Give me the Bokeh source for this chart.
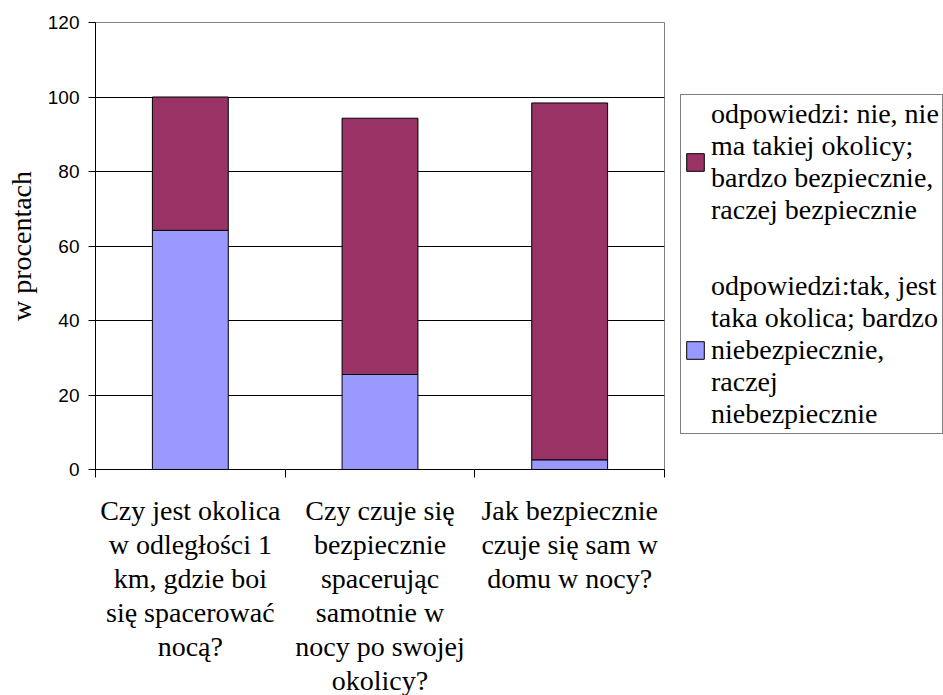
from bokeh.plotting import figure
from bokeh.models import ColumnDataSource, FixedTicker, Legend, LegendItem, Range1d
from bokeh.embed import file_html
from bokeh.resources import INLINE

# ---- data ----
categories = [
    "Czy jest okolica\nw odległości 1\nkm, gdzie boi\nsię spacerować\nnocą?",
    "Czy czuje się\nbezpiecznie\nspacerując\nsamotnie w\nnocy po swojej\nokolicy?",
    "Jak bezpiecznie\nczuje się sam w\ndomu w nocy?",
]
tak = [64.2, 25.5, 2.6]     # odpowiedzi: tak ... niebezpiecznie
nie = [35.8, 68.8, 95.8]    # odpowiedzi: nie ... bezpiecznie
label_tak = "odpowiedzi:tak, jest\ntaka okolica; bardzo\nniebezpiecznie,\nraczej\nniebezpiecznie"
label_nie = "odpowiedzi: nie, nie\nma takiej okolicy;\nbardzo bezpiecznie,\nraczej bezpiecznie"
y_ticks = [0, 20, 40, 60, 80, 100, 120]
y_title = "w procentach"

pos = [i + 0.5 for i in range(len(categories))]
src = ColumnDataSource(dict(x=pos, tak=tak, nie=nie))

SERIF = "Liberation Serif"
SANS = "Liberation Sans"

p = figure(frame_width=569, frame_height=447, x_range=Range1d(0, len(categories)), y_range=Range1d(0, 120),
           output_backend="svg", toolbar_location=None,
           min_border_left=95, min_border_right=279, min_border_top=22, min_border_bottom=0)
p.background_fill_color = "white"
p.border_fill_color = "white"
p.outline_line_color = "#808080"

rs = p.vbar_stack(["tak", "nie"], x="x", width=0.4, source=src,
                  fill_color=["#9999FF", "#993366"], line_color="black", line_width=1)

# x axis
xa = p.xaxis[0]
xa.ticker = FixedTicker(ticks=pos, minor_ticks=list(range(len(categories) + 1)))
xa.major_label_overrides = {pos[i]: categories[i] for i in range(len(categories))}
xa.major_tick_line_color = None
xa.major_tick_out = 8
xa.major_tick_in = 0
xa.minor_tick_out = 8
xa.minor_tick_in = 0
xa.minor_tick_line_color = "black"
xa.axis_line_color = "black"
xa.major_label_text_font = SERIF
xa.major_label_text_font_size = "28px"
xa.major_label_text_color = "black"
xa.major_label_text_line_height = 1.1
xa.major_label_standoff = 17

# y axis
ya = p.yaxis[0]
ya.ticker = FixedTicker(ticks=y_ticks, minor_ticks=[])
ya.major_tick_out = 7
ya.major_tick_in = 0
ya.major_tick_line_color = "black"
ya.axis_line_color = "black"
ya.major_label_text_font = SANS
ya.major_label_text_font_size = "19px"
ya.major_label_text_color = "black"
ya.major_label_standoff = 9
ya.axis_label = y_title
ya.axis_label_text_font = SERIF
ya.axis_label_text_font_style = "normal"
ya.axis_label_text_font_size = "28px"
ya.axis_label_text_color = "black"
ya.axis_label_standoff = 8

p.xgrid.grid_line_color = None
p.ygrid.grid_line_color = "black"
p.ygrid.grid_line_width = 1

legend = Legend(items=[LegendItem(label=label_nie, renderers=[rs[1]]),
                       LegendItem(label=label_tak, renderers=[rs[0]])],
                location=(16, 35))
legend.label_text_font = SERIF
legend.label_text_font_size = "28px"
legend.label_text_color = "black"
legend.label_text_line_height = 1.0
legend.glyph_width = 22
legend.glyph_height = 22
legend.label_standoff = 5
legend.padding = 3
legend.spacing = 44
legend.margin = 0
legend.border_line_color = "black"
legend.border_line_width = 1
legend.background_fill_color = "white"
legend.background_fill_alpha = 1
p.add_layout(legend, "right")

open("out.html", "w").write(file_html(p, INLINE))
